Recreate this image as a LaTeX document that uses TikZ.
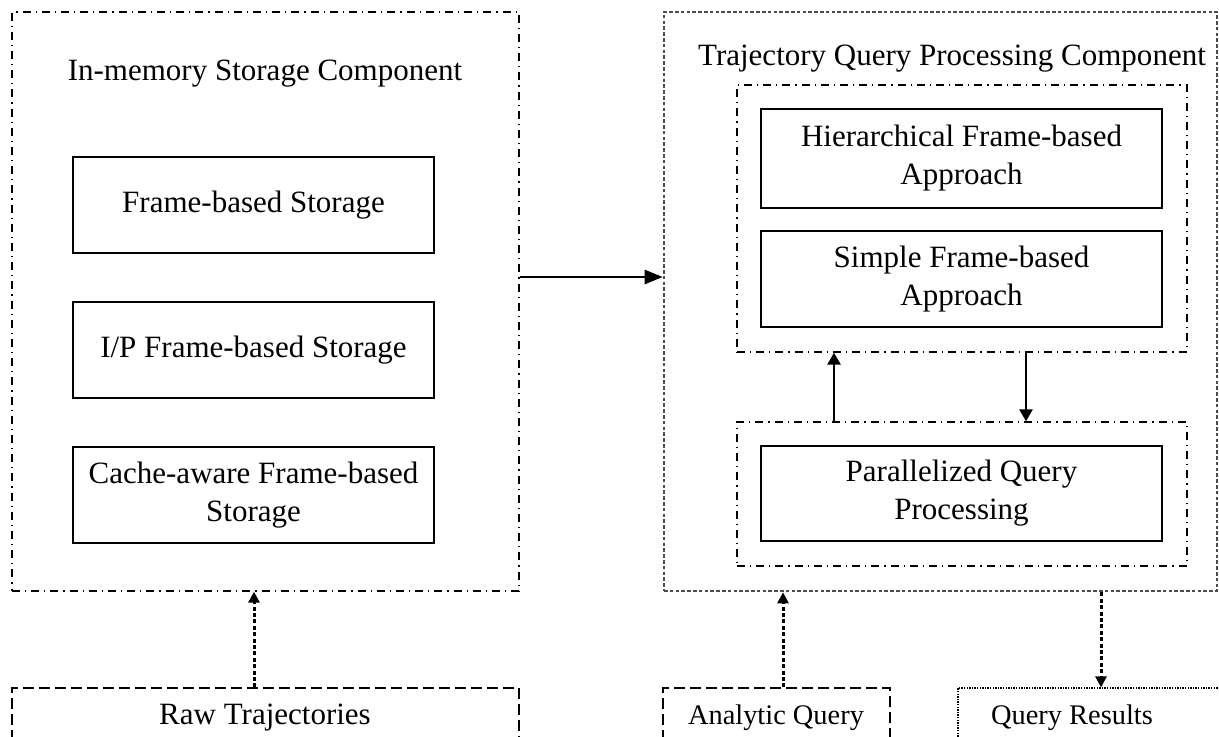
\documentclass[tikz,border=0pt]{standalone}
\usepackage{fontspec}
\setmainfont{Liberation Serif}
\usetikzlibrary{arrows.meta}
\begin{document}
\begin{tikzpicture}[x=0.5pt,y=-0.5pt,
  every node/.style={font=\fontsize{15.5}{19}\selectfont, inner sep=0pt, align=center},
  small/.style={font=\fontsize{14.2}{17}\selectfont},
  block/.style={draw, line width=0.7pt},
  dashdot/.style={draw, line width=0.65pt, dash pattern=on 4pt off 2.5pt on 0.6pt off 2.5pt},
  densedash/.style={draw, line width=1.3pt, draw=black!70, dash pattern=on 1.8pt off 1.1pt},
  plaindash/.style={draw, line width=0.65pt, dash pattern=on 5.5pt off 2.5pt},
  finedot/.style={draw, line width=0.6pt, dash pattern=on 0.7pt off 0.6pt},
  solidarrow/.style={line width=1.3pt, -{Triangle[length=6pt, width=6.5pt]}},
  dotarrow/.style={line width=1.5pt, dash pattern=on 2pt off 1.2pt, -{Triangle[length=5.5pt, width=5.5pt]}}
]
\clip (0,0) rectangle (1219,736);
\fill[white] (0,0) rectangle (1219,736);

% storage component
\node[dashdot, minimum width=253.5pt, minimum height=289.5pt] (store) at (265.5,301.5) {};
\node[anchor=base] (storetitle) at (265,80) {In-memory Storage Component};
\node[block, minimum width=180.5pt, minimum height=48pt] (frame) at (253.5,205) {Frame-based Storage};
\node[block, minimum width=180.5pt, minimum height=48pt] (ip) at (253.5,350) {I/P Frame-based Storage};
\node[block, minimum width=180.5pt, minimum height=48pt] (cache) at (253.5,495) {Cache-aware Frame-based\\Storage};

% query processing component
\node[densedash, minimum width=276.5pt, minimum height=289.5pt] (proc) at (940.5,301.5) {};
\node[anchor=base] (proctitle) at (952,65) {Trajectory Query Processing Component};
\node[dashdot, minimum width=225pt, minimum height=133.5pt] (approaches) at (962,218.5) {};
\node[block, minimum width=200.5pt, minimum height=49.5pt] (hier) at (961.5,158.5) {Hierarchical Frame-based\\Approach};
\node[block, minimum width=200.5pt, minimum height=48pt] (simple) at (961.5,279) {Simple Frame-based\\Approach};
\node[dashdot, minimum width=225pt, minimum height=72pt] (parbox) at (962,494) {};
\node[block, minimum width=200.5pt, minimum height=47.5pt] (para) at (961.5,493.5) {Parallelized Query\\Processing};

% inputs and outputs
\node[plaindash, minimum width=253.5pt, minimum height=40pt] (raw) at (265.5,728) {};
\node[anchor=base] (rawtext) at (265,724) {Raw Trajectories};
\node[plaindash, minimum width=113.5pt, minimum height=40pt] (analytic) at (776.5,728) {};
\node[anchor=base, small] (analytictext) at (776,724) {Analytic Query};
\node[finedot, minimum width=145pt, minimum height=40pt] (results) at (1103,728) {};
\node[anchor=base, small] (resultstext) at (1072,724) {Query Results};

% connectors
\draw[line width=1.3pt, -{Triangle[length=9pt, width=7pt]}] (store.east |- 0,277) -- (proc.west |- 0,277);
\draw[solidarrow] (parbox.north -| 834,0) -- (approaches.south -| 834,0);
\draw[solidarrow] (approaches.south -| 1026,0) -- (parbox.north -| 1026,0);
\draw[dotarrow] (raw.north -| 254,0) -- (store.south -| 254,0);
\draw[dotarrow] (analytic.north -| 783,0) -- (proc.south -| 783,0);
\draw[dotarrow] (proc.south -| 1101,0) -- (results.north -| 1101,0);
\end{tikzpicture}
\end{document}
